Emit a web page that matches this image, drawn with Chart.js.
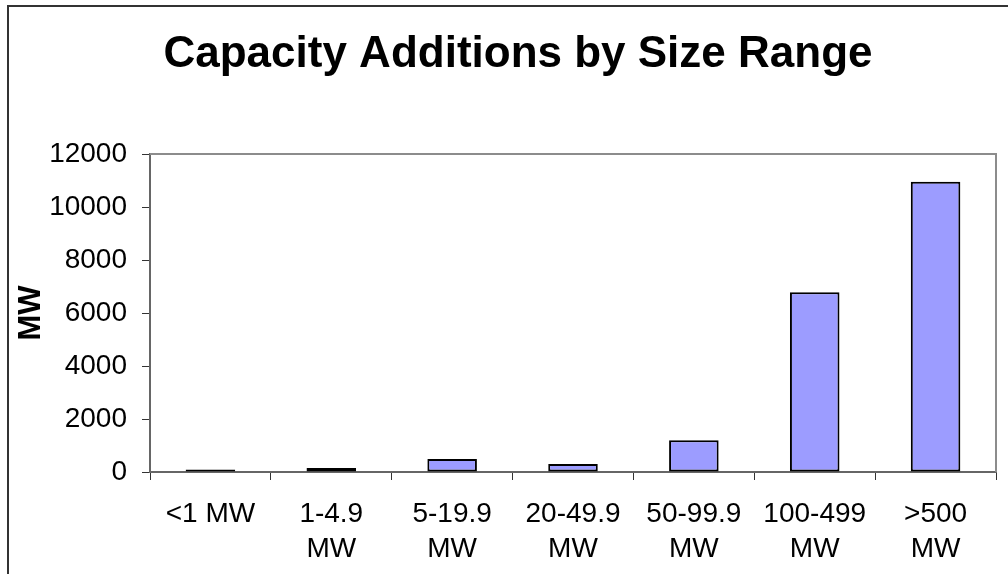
<!DOCTYPE html>
<html>
<head>
<meta charset="utf-8">
<script src="https://cdn.jsdelivr.net/npm/chart.js@4.4.1/dist/chart.umd.min.js"></script>
<style>
  html, body { margin: 0; padding: 0; background: #fff; overflow: hidden; }
  #frame {
    position: absolute; left: 7px; top: 5px; width: 1020px; height: 600px;
    border-top: 2px solid #333; border-left: 2px solid #333;
  }
  #wrap { position: absolute; left: 9px; top: 7px; width: 1018px; height: 577px; }
</style>
</head>
<body>
<div id="frame"></div>
<div id="wrap"><canvas id="main-chart"></canvas></div>
<script>
// Capacity added per plant size range (MW)
const sizeRanges = ['<1 MW', ['1-4.9', 'MW'], ['5-19.9', 'MW'], ['20-49.9', 'MW'],
                    ['50-99.9', 'MW'], ['100-499', 'MW'], ['>500', 'MW']];
const capacityMW = [90, 150, 490, 300, 1200, 6780, 10950];
const yTicks = [0, 2000, 4000, 6000, 8000, 10000, 12000];
const chartTitle = 'Capacity Additions by Size Range';

const FONT = "'Liberation Sans', Arial, sans-serif";

// gray frame on the top and right of the plot area, plus the title,
// which Excel centres on the full (cropped) chart rather than the plot
const decorations = {
  id: 'decorations',
  afterDraw(chart) {
    const { ctx, chartArea: a } = chart;
    ctx.save();
    ctx.strokeStyle = '#8c8c8c';
    ctx.lineWidth = 2;
    ctx.beginPath();
    ctx.moveTo(a.left, a.top);
    ctx.lineTo(a.right, a.top);
    ctx.lineTo(a.right, a.bottom);
    ctx.stroke();

    ctx.fillStyle = '#000';
    ctx.font = `bold 44px ${FONT}`;
    ctx.textAlign = 'center';
    ctx.textBaseline = 'alphabetic';
    ctx.fillText(chartTitle, 509, 59.5);
    ctx.restore();
  }
};

new Chart(document.getElementById('main-chart'), {
  type: 'bar',
  data: {
    labels: sizeRanges,
    datasets: [{
      label: 'MW',
      data: capacityMW,
      backgroundColor: '#9c9cff',
      borderColor: '#000',
      borderWidth: 2,
      borderSkipped: false,
      barPercentage: 0.41,
      categoryPercentage: 1,
    }]
  },
  options: {
    responsive: true,
    maintainAspectRatio: false,
    animation: false,
    layout: { padding: { left: 0, right: 31, top: 147, bottom: 0 } },
    plugins: {
      legend: { display: false },
      tooltip: { enabled: false },
      title: { display: false }
    },
    scales: {
      x: {
        grid: { offset: true, drawOnChartArea: false, tickLength: 8, color: '#333', lineWidth: 1 },
        border: { color: '#666', width: 2 },
        ticks: {
          color: '#000',
          padding: 17,
          maxRotation: 0,
          autoSkip: false,
          font: { family: FONT, size: 28, lineHeight: 1.25 }
        }
      },
      y: {
        min: 0,
        max: 12000,
        afterFit(scale) { scale.width = 141; },
        afterBuildTicks(scale) { scale.ticks = yTicks.map(v => ({ value: v })); },
        grid: { drawOnChartArea: false, tickLength: 8, color: '#333', lineWidth: 1 },
        border: { color: '#666', width: 2 },
        title: {
          display: true,
          text: 'MW',
          color: '#000',
          padding: { top: 7, bottom: 0 },
          font: { family: FONT, size: 31, weight: 'bold', lineHeight: 1 }
        },
        ticks: {
          color: '#000',
          padding: 15,
          font: { family: FONT, size: 28 },
          callback: (v) => String(v)
        }
      }
    }
  },
  plugins: [decorations]
});
</script>
</body>
</html>
